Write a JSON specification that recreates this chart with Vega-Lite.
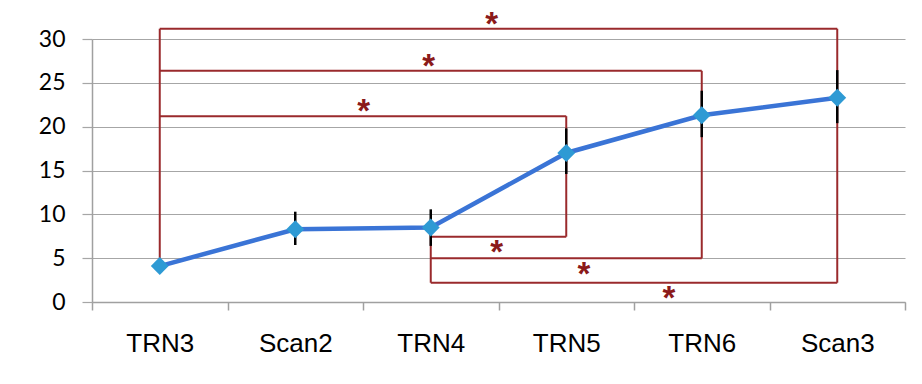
{
  "$schema": "https://vega.github.io/schema/vega-lite/v6.json",
  "width": 813,
  "height": 263,
  "autosize": "none",
  "padding": {"left": 92, "top": 39, "right": 17, "bottom": 82},
  "background": "white",
  "config": {"view": {"stroke": null}},
  "datasets": {
    "means": [
      {"stage": "TRN3", "order": 0, "mean": 4.1, "lo": null, "hi": null},
      {"stage": "Scan2", "order": 1, "mean": 8.3, "lo": 6.5, "hi": 10.3},
      {"stage": "TRN4", "order": 2, "mean": 8.5, "lo": 6.4, "hi": 10.57},
      {"stage": "TRN5", "order": 3, "mean": 17.0, "lo": 14.6, "hi": 19.8},
      {"stage": "TRN6", "order": 4, "mean": 21.3, "lo": 18.8, "hi": 24.1},
      {"stage": "Scan3", "order": 5, "mean": 23.3, "lo": 20.4, "hi": 26.45}
    ],
    "brackets": [
      {"x1": 0, "x2": 5, "y1": 31.17, "y2": 31.17},
      {"x1": 0, "x2": 4, "y1": 26.37, "y2": 26.37},
      {"x1": 0, "x2": 3, "y1": 21.2, "y2": 21.2},
      {"x1": 2, "x2": 3, "y1": 7.45, "y2": 7.45},
      {"x1": 2, "x2": 4, "y1": 4.98, "y2": 4.98},
      {"x1": 2, "x2": 5, "y1": 2.2, "y2": 2.2},
      {"x1": 0, "x2": 0, "y1": 4.1, "y2": 31.17},
      {"x1": 2, "x2": 2, "y1": 8.5, "y2": 2.2},
      {"x1": 3, "x2": 3, "y1": 21.2, "y2": 7.45},
      {"x1": 4, "x2": 4, "y1": 26.37, "y2": 4.98},
      {"x1": 5, "x2": 5, "y1": 31.17, "y2": 2.2}
    ],
    "stars": [
      {"x": 2.45, "y": 32.3, "label": "*"},
      {"x": 1.985, "y": 27.5, "label": "*"},
      {"x": 1.505, "y": 22.35, "label": "*"},
      {"x": 2.487, "y": 6.24, "label": "*"},
      {"x": 3.131, "y": 3.8, "label": "*"},
      {"x": 3.758, "y": 0.99, "label": "*"}
    ]
  },
  "layer": [
    {
      "data": {"name": "brackets"},
      "mark": {"type": "rule", "color": "#9a2a2c", "strokeWidth": 2},
      "encoding": {
        "x": {
          "field": "x1", "type": "quantitative",
          "scale": {"domain": [-0.5, 5.5], "nice": false, "zero": false},
          "axis": {
            "title": null,
            "values": [-0.5, 0, 0.5, 1, 1.5, 2, 2.5, 3, 3.5, 4, 4.5, 5, 5.5],
            "labelExpr": "datum.value % 1 === 0 ? ['TRN3','Scan2','TRN4','TRN5','TRN6','Scan3'][datum.value] : ''",
            "tickOpacity": {"condition": {"test": "datum.value % 1 !== 0", "value": 1}, "value": 0},
            "grid": false,
            "domainColor": "#a0a0a0",
            "domainWidth": 1.5,
            "tickColor": "#a0a0a0",
            "tickWidth": 1.5,
            "tickSize": 8,
            "labelFont": "Liberation Sans",
            "labelFontSize": 26,
            "labelColor": "#000000",
            "labelPadding": 20,
            "labelFlush": false,
            "labelOverlap": false
          }
        },
        "x2": {"field": "x2"},
        "y": {
          "field": "y1", "type": "quantitative",
          "scale": {"domain": [0, 30], "nice": false},
          "axis": {
            "title": null,
            "values": [0, 5, 10, 15, 20, 25, 30],
            "grid": true,
            "gridColor": "#a6a6a6",
            "gridWidth": 1.2,
            "domainColor": "#a0a0a0",
            "domainWidth": 1.5,
            "tickColor": "#a6a6a6",
            "tickWidth": 1.2,
            "tickSize": 10,
            "labelFont": "Lato",
            "labelFontSize": 23,
            "labelColor": "#000000",
            "labelPadding": 17
          }
        },
        "y2": {"field": "y2"}
      }
    },
    {
      "data": {"name": "means"},
      "transform": [{"filter": "datum.lo != null"}],
      "mark": {"type": "rule", "color": "#000000", "strokeWidth": 2.5},
      "encoding": {
        "x": {"field": "order", "type": "quantitative"},
        "y": {"field": "lo", "type": "quantitative"},
        "y2": {"field": "hi"}
      }
    },
    {
      "data": {"name": "means"},
      "mark": {"type": "line", "color": "#3a74d6", "strokeWidth": 4.5},
      "encoding": {
        "x": {"field": "order", "type": "quantitative"},
        "y": {"field": "mean", "type": "quantitative"}
      }
    },
    {
      "data": {"name": "means"},
      "mark": {"type": "point", "shape": "diamond", "filled": true, "size": 320, "color": "#2e9ad4", "opacity": 1},
      "encoding": {
        "x": {"field": "order", "type": "quantitative"},
        "y": {"field": "mean", "type": "quantitative"}
      }
    },
    {
      "data": {"name": "stars"},
      "mark": {"type": "text", "font": "Liberation Sans", "fontWeight": "bold", "fontSize": 33, "color": "#8b1a1a", "baseline": "middle", "align": "center", "dy": 6},
      "encoding": {
        "x": {"field": "x", "type": "quantitative"},
        "y": {"field": "y", "type": "quantitative"},
        "text": {"field": "label"}
      }
    }
  ]
}
